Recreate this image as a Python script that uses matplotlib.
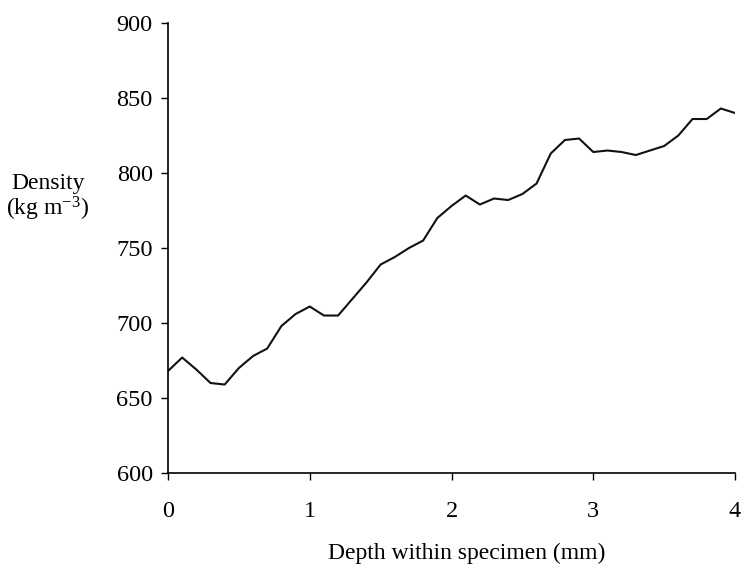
from matplotlib import pyplot as plt
import numpy as np

# density profile, one value every 0.1 mm
depth = np.arange(0, 41) / 10.0
density = [668, 677, 669, 660, 659, 670, 678, 683, 698, 706,
           711, 705, 705, 716, 727, 739, 744, 750, 755, 770,
           778, 785, 779, 783, 782, 786, 793, 813, 822, 823,
           814, 815, 814, 812, 815, 818, 825, 836, 836, 843,
           840]

xticks = [0, 1, 2, 3, 4]
yticks = [600, 650, 700, 750, 800, 850, 900]

plt.rcParams['font.family'] = ['Liberation Serif', 'DejaVu Serif']
plt.rcParams['mathtext.fontset'] = 'custom'
plt.rcParams['mathtext.rm'] = 'Liberation Serif'
plt.rcParams['mathtext.default'] = 'regular'

fig = plt.figure(figsize=(7.42, 5.64), dpi=100)
ax = fig.add_axes([0.2264, 0.1613, 0.7642, 0.7979])

ax.plot(depth, density, color='#111111', lw=1.5)

ax.set_xlim(0, 4)
ax.set_ylim(600, 900)
ax.set_xticks(xticks)
ax.set_yticks(yticks)
ax.tick_params(direction='out', length=5, width=1, labelsize=17.5)
ax.tick_params(axis='x', pad=15)
ax.tick_params(axis='y', pad=6)

for s in ['top', 'right']:
    ax.spines[s].set_visible(False)
for s in ['left', 'bottom']:
    ax.spines[s].set_linewidth(1.2)

ax.set_xlabel('Depth within specimen (mm)', fontsize=17, va='center')
ax.xaxis.set_label_coords(0.526, -0.178)
ax.set_ylabel('Density\n(kg m$^{-3}$)', fontsize=17, rotation=0,
              ha='center', va='center', linespacing=1.0)
ax.yaxis.set_label_coords(-0.212, 0.611)

plt.savefig("out.png", dpi=100)
